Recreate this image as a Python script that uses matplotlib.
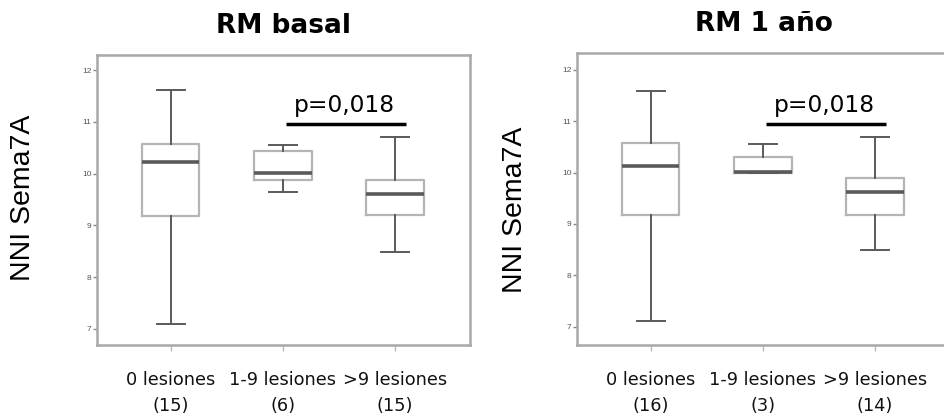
import matplotlib
matplotlib.use('Agg')
import matplotlib.pyplot as plt

# ---------------------------------------------------------------------------
# Datos
# ---------------------------------------------------------------------------
grupos = ['0 lesiones', '1-9 lesiones', '>9 lesiones']
titulos = ['RM basal', 'RM 1 año']

n_basal = [15, 6, 15]
n_1ano = [16, 3, 14]

# whislo, q1, med, q3, whishi
basal_whislo = [7.10, 9.64, 8.48]
basal_q1 = [9.19, 9.88, 9.21]
basal_med = [10.23, 10.01, 9.60]
basal_q3 = [10.58, 10.43, 9.87]
basal_whishi = [11.61, 10.56, 10.71]

ano_whislo = [7.10, 10.00, 8.49]
ano_q1 = [9.17, 10.00, 9.18]
ano_med = [10.13, 10.01, 9.62]
ano_q3 = [10.57, 10.30, 9.89]
ano_whishi = [11.59, 10.55, 10.69]

p_texto = 'p=0,018'
p_nivel = 10.95
p_grupos = (2, 3)

yticks = [7, 8, 9, 10, 11, 12]

# ---------------------------------------------------------------------------
fig = plt.figure(figsize=(9.44, 4.17), dpi=100)

paneles = [
    dict(pos=[97/944, 1-345/417, 373/944, 290/417], n=n_basal,
         stats=(basal_whislo, basal_q1, basal_med, basal_q3, basal_whishi),
         ylab=(23, 198), ylim=(6.69, 12.29), title=titulos[0]),
    dict(pos=[577/944, 1-345/417, 373/944, 292/417], n=n_1ano,
         stats=(ano_whislo, ano_q1, ano_med, ano_q3, ano_whishi),
         ylab=(515, 210), ylim=(6.64, 12.33), title=titulos[1]),
]

gris_caja = '#b4b4b4'
gris_linea = '#5a5a5a'
gris_marco = '#a8a8a8'

for p in paneles:
    ax = fig.add_axes(p['pos'])
    wl, q1, med, q3, wh = p['stats']
    stats = []
    for i in range(3):
        stats.append(dict(whislo=wl[i], q1=q1[i], med=med[i], q3=q3[i],
                          whishi=wh[i], fliers=[]))
    ax.bxp(stats, positions=[1, 2, 3], widths=0.51, showfliers=False,
           boxprops=dict(color=gris_caja, linewidth=1.6),
           whiskerprops=dict(color=gris_linea, linewidth=1.4),
           capprops=dict(color=gris_linea, linewidth=1.4),
           medianprops=dict(color=gris_linea, linewidth=2.6),
           capwidths=0.25)

    ax.set_xlim(0.34, 3.67)
    ax.set_ylim(*p['ylim'])
    ax.set_yticks(yticks)
    ax.set_yticklabels([str(t) for t in yticks], fontsize=6, color='#555555',
                       family='Liberation Sans')
    ax.tick_params(axis='y', length=3, width=1, color='#888888', pad=1)
    ax.tick_params(axis='x', length=4, width=1, color='#bbbbbb', pad=15)
    ax.set_xticks([1, 2, 3])
    ax.set_xticklabels([f'{g}\n({n})' for g, n in zip(grupos, p['n'])],
                       fontsize=12.8, color='#111111', linespacing=1.55,
                       family='DejaVu Sans')
    for s in ax.spines.values():
        s.set_color(gris_marco)
        s.set_linewidth(1.8)

    # linea de significacion
    a, b = p_grupos
    ax.plot([a + 0.03, b + 0.1], [p_nivel, p_nivel], color='black', lw=2.5,
            solid_capstyle='butt')
    ax.text((a + b) / 2 + 0.05, p_nivel + 0.14, p_texto, ha='center',
            va='bottom', fontsize=16.8, family='DejaVu Sans')

    ax.set_title(p['title'], fontsize=19, fontweight='bold',
                 family='DejaVu Sans', pad=16)

    fig.text(p['ylab'][0] / 944, 1 - p['ylab'][1] / 417, 'NNI Sema7A',
             rotation=90, ha='center', va='center', fontsize=20.5,
             family='Liberation Sans')

fig.savefig('out.png', dpi=100)
